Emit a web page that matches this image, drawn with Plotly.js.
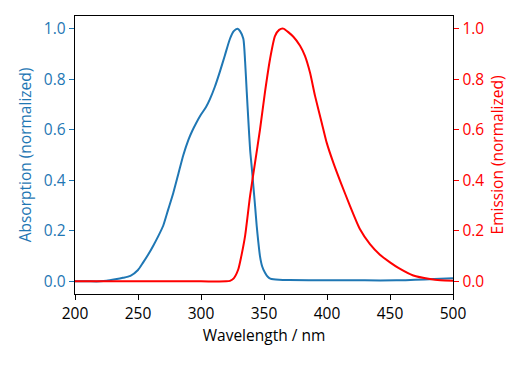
<!DOCTYPE html>
<html><head><meta charset="utf-8">
<script src="https://cdn.plot.ly/plotly-3.0.1.min.js"></script>
<style>body{margin:0;padding:0;}#plot{width:529px;height:366px;}</style>
</head><body><div id="plot"></div>
<script>
const absWl  = [200, 210, 220, 225, 232, 238, 244, 250, 254, 258, 262, 266, 270, 274, 278, 282, 286, 290, 293, 296, 300, 304, 307, 311, 315, 319, 323, 326, 329, 331, 333.6, 335, 336.3, 337.6, 339, 340.3, 341.5, 342.9, 344.2, 345.5, 346.8, 348.5, 350.8, 353, 355, 357.4, 362, 370, 400, 430, 455, 470, 485, 500];
const absVal = [0, 0, 0, 0.002, 0.008, 0.014, 0.022, 0.045, 0.074, 0.105, 0.14, 0.178, 0.22, 0.285, 0.35, 0.425, 0.50, 0.56, 0.595, 0.625, 0.66, 0.69, 0.72, 0.77, 0.83, 0.895, 0.96, 0.99, 1.0, 0.99, 0.96, 0.87, 0.75, 0.635, 0.52, 0.45, 0.38, 0.30, 0.22, 0.155, 0.10, 0.06, 0.034, 0.018, 0.011, 0.008, 0.006, 0.005, 0.004, 0.004, 0.004, 0.006, 0.009, 0.012];
const emWl  = [200, 250, 300, 320, 323, 326, 329.6, 332, 335, 339, 342.9, 346.8, 350.8, 354.8, 358.7, 362, 365.3, 373.3, 378.6, 382.5, 386.5, 390.5, 395.8, 399.8, 405, 411, 418.3, 426.2, 434.1, 442, 450, 457, 468.5, 481.7, 490, 500];
const emVal = [0, 0, 0, 0, 0.002, 0.012, 0.048, 0.10, 0.18, 0.34, 0.47, 0.60, 0.75, 0.88, 0.97, 0.995, 1.0, 0.968, 0.932, 0.892, 0.826, 0.734, 0.628, 0.548, 0.47, 0.39, 0.298, 0.206, 0.147, 0.105, 0.075, 0.052, 0.023, 0.009, 0.004, 0.002];

const tickFont = {family: "Open Sans, Noto Sans, sans-serif", size: 15.5};
const traces = [
  {x: absWl, y: absVal, type: 'scatter', mode: 'lines', line: {color: '#1f77b4', width: 2, shape: 'spline', smoothing: 0.6}, yaxis: 'y', hoverinfo: 'skip'},
  {x: emWl, y: emVal, type: 'scatter', mode: 'lines', line: {color: '#ff0000', width: 2, shape: 'spline', smoothing: 0.6}, yaxis: 'y2', hoverinfo: 'skip'}
];
const layout = {
  width: 529, height: 366,
  margin: {l: 75, r: 76, t: 16, b: 72},
  paper_bgcolor: 'white', plot_bgcolor: 'white',
  showlegend: false,
  xaxis: {range: [200, 500], tickvals: [200, 250, 300, 350, 400, 450, 500], ticks: 'outside', ticklen: 5, tickcolor: 'black',
    showline: true, linecolor: 'black', linewidth: 1.3, mirror: true, showgrid: false, zeroline: false,
    tickfont: Object.assign({color: 'black'}, tickFont),
    title: {text: 'Wavelength / nm', font: Object.assign({color: 'black'}, tickFont), standoff: 6}},
  yaxis: {range: [-0.05, 1.05], tickvals: [0, 0.2, 0.4, 0.6, 0.8, 1.0], ticktext: ['0.0','0.2','0.4','0.6','0.8','1.0'],
    ticks: 'outside', ticklen: 5, tickcolor: '#1f77b4', showline: true, linecolor: 'black', linewidth: 1.3,
    showgrid: false, zeroline: false, tickfont: Object.assign({color: '#1f77b4'}, tickFont),
    title: {text: 'Absorption (normalized)', font: Object.assign({color: '#1f77b4'}, tickFont), standoff: 8}},
  yaxis2: {range: [-0.05, 1.05], overlaying: 'y', side: 'right', tickvals: [0, 0.2, 0.4, 0.6, 0.8, 1.0], ticktext: ['0.0','0.2','0.4','0.6','0.8','1.0'],
    ticks: 'outside', ticklen: 5, tickcolor: '#ff0000', showline: true, linecolor: 'black', linewidth: 1.3,
    showgrid: false, zeroline: false, tickfont: Object.assign({color: '#ff0000'}, tickFont),
    title: {text: 'Emission (normalized)', font: Object.assign({color: '#ff0000'}, tickFont), standoff: 8}}
};
Plotly.newPlot('plot', traces, layout, {displayModeBar: false, staticPlot: true});
</script></body></html>
